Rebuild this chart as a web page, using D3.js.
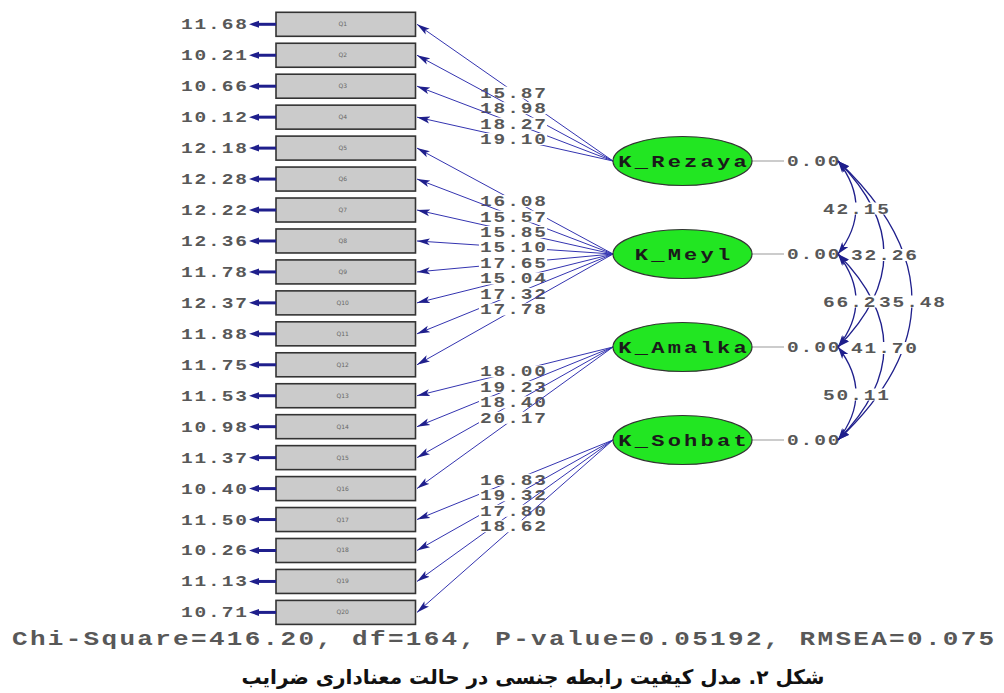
<!DOCTYPE html>
<html>
<head>
<meta charset="utf-8">
<script src="https://cdn.jsdelivr.net/npm/d3@7"></script>
<style>
  body { margin: 0; background: #fff; }
  svg { display: block; }
</style>
</head>
<body>
<svg id="chart" width="1004" height="693"></svg>
<script>
const W = 1004, H = 693;

// --- data ---
const indicators = ["Q1","Q2","Q3","Q4","Q5","Q6","Q7","Q8","Q9","Q10",
                    "Q11","Q12","Q13","Q14","Q15","Q16","Q17","Q18","Q19","Q20"];
const errorVars = [11.68, 10.21, 10.66, 10.12, 12.18, 12.28, 12.22, 12.36, 11.78, 12.37,
                   11.88, 11.75, 11.53, 10.98, 11.37, 10.40, 11.50, 10.26, 11.13, 10.71];
const loadings = [15.87, 18.98, 18.27, 19.10, 16.08, 15.57, 15.85, 15.10, 17.65, 15.04,
                  17.32, 17.78, 18.00, 19.23, 18.40, 20.17, 16.83, 19.32, 17.80, 18.62];
const factorOf = [0,0,0,0, 1,1,1,1,1,1,1,1, 2,2,2,2, 3,3,3,3];
const latents = ["K_Rezaya", "K_Meyl", "K_Amalka", "K_Sohbat"];
const latentVars = [0.00, 0.00, 0.00, 0.00];
const covPairs = [[0,1], [1,2], [2,3], [0,2], [1,3], [0,3]];
const covValues = [42.15, 66.23, 50.11, 32.26, 41.70, 35.48];
const fitText = "Chi-Square=416.20, df=164, P-value=0.05192, RMSEA=0.075";
const caption = "شکل ۲. مدل کیفیت رابطه جنسی در حالت معناداری ضرایب";

// --- layout ---
const yInd = d3.scalePoint().domain(indicators).range([24.3, 612.4]);
const yLat = d3.scalePoint().domain(latents).range([161, 440]);
const box = { x0: 276, x1: 415.5, h: 24 };
const lat = { cx: 682.5, rx: 69.5, ry: 24.5 };
const covX = 838;
const bulge = d3.scaleLinear().domain([1, 3]).range([18, 74]);

const navy = "#1f1f8c", lineBlue = "#3434b0", grayTxt = "#585858";
const mono = "'Liberation Mono', 'DejaVu Sans Mono', monospace";
const SX = 1.3; // horizontal stretch of the monospace glyphs

const svg = d3.select("#chart");
svg.append("rect").attr("width", W).attr("height", H).attr("fill", "#fff");

const defs = svg.append("defs");
defs.append("marker").attr("id", "ah")
  .attr("markerUnits", "userSpaceOnUse")
  .attr("viewBox", "0 -4 13 8").attr("refX", 13).attr("refY", 0)
  .attr("markerWidth", 13).attr("markerHeight", 8)
  .attr("orient", "auto")
  .append("path").attr("d", "M0,-3.5L13,0L0,3.5L3,0Z").attr("fill", navy);
defs.append("marker").attr("id", "ch")
  .attr("markerUnits", "userSpaceOnUse")
  .attr("viewBox", "0 -4 12 8").attr("refX", 12).attr("refY", 0)
  .attr("markerWidth", 12).attr("markerHeight", 8)
  .attr("orient", "auto-start-reverse")
  .append("path").attr("d", "M0,-4L12,0L0,4L3,0Z").attr("fill", navy);

// mono text with a fixed advance per character, glyphs slightly widened
function monoText(g, str, x, y, size, adv, anchor, color) {
  const s = String(str);
  const len = (s.length - 1) * adv + size * 0.6 * SX;
  return g.append("g")
    .attr("transform", `translate(${x},${y}) scale(${SX},1)`)
    .append("text")
    .attr("x", 0).attr("y", 0)
    .attr("font-family", mono).attr("font-size", size).attr("font-weight", "bold")
    .attr("fill", color || grayTxt)
    .attr("text-anchor", anchor)
    .attr("textLength", len / SX).attr("lengthAdjust", "spacing")
    .text(s);
}
function labelWithBg(g, str, cx, cy, size, adv) {
  const s = String(str);
  const len = (s.length - 1) * adv + size * 0.6 * SX;
  g.append("rect").attr("x", cx - len / 2 - 1).attr("y", cy - 6)
    .attr("width", len + 2).attr("height", 12).attr("fill", "#fff");
  monoText(g, s, cx, cy + 5, size, adv, "middle");
}

// --- indicator boxes and error arrows ---
const gBox = svg.append("g");
indicators.forEach((q, i) => {
  const y = yInd(q);
  gBox.append("rect").attr("x", box.x0).attr("y", y - box.h / 2)
    .attr("width", box.x1 - box.x0).attr("height", box.h)
    .attr("fill", "#cbcbcb").attr("stroke", "#333").attr("stroke-width", 1.6);
  gBox.append("text").attr("x", (box.x0 + box.x1) / 2 - 3).attr("y", y + 2)
    .attr("font-family", "DejaVu Sans").attr("font-size", 6)
    .attr("fill", "#666").attr("text-anchor", "middle").text(q);
  // error arrow
  gBox.append("line").attr("x1", box.x0).attr("x2", box.x0 - 19)
    .attr("y1", y).attr("y2", y).attr("stroke", navy).attr("stroke-width", 3);
  gBox.append("path")
    .attr("d", `M${box.x0 - 27},${y}L${box.x0 - 17},${y - 3.5}L${box.x0 - 17},${y + 3.5}Z`)
    .attr("fill", navy);
  monoText(gBox, errorVars[i].toFixed(2), box.x0 - 29, y + 5, 15, 13.6, "end");
});

// --- loadings: line, then its label on a white patch ---
const gLoad = svg.append("g");
indicators.forEach((q, i) => {
  const f = latents[factorOf[i]];
  const x1 = lat.cx - lat.rx, y1 = yLat(f);
  const x2 = box.x1 + 1.5, y2 = yInd(q);
  gLoad.append("line").attr("x1", x1).attr("y1", y1).attr("x2", x2).attr("y2", y2)
    .attr("stroke", lineBlue).attr("stroke-width", 1)
    .attr("marker-end", "url(#ah)");
  labelWithBg(gLoad, loadings[i].toFixed(2), (x1 + x2) / 2 - 2, (y1 + y2) / 2, 15, 13.6);
});

// --- latent ellipses ---
const gLat = svg.append("g");
latents.forEach((name, k) => {
  const y = yLat(name);
  gLat.append("line").attr("x1", lat.cx + lat.rx).attr("x2", 784)
    .attr("y1", y).attr("y2", y).attr("stroke", "#999").attr("stroke-width", 1);
  gLat.append("ellipse").attr("cx", lat.cx).attr("cy", y)
    .attr("rx", lat.rx).attr("ry", lat.ry)
    .attr("fill", "#22e622").attr("stroke", "#333").attr("stroke-width", 1.2);
  monoText(gLat, name, lat.cx, y + 6, 17, 16.5, "middle", "#1a1a1a");
  monoText(gLat, latentVars[k].toFixed(2), 787, y + 5, 15, 13.6, "start");
});

// --- covariance curves ---
const gCov = svg.append("g");
covPairs.forEach(([a, b]) => {
  const ya = yLat(latents[a]), yb = yLat(latents[b]);
  const bz = bulge(b - a);
  const mid = (ya + yb) / 2;
  gCov.append("path")
    .attr("d", `M${covX},${ya}Q${covX + 2 * bz},${mid} ${covX},${yb}`)
    .attr("fill", "none").attr("stroke", navy).attr("stroke-width", 1.3)
    .attr("marker-start", "url(#ch)").attr("marker-end", "url(#ch)");
});
covPairs.forEach(([a, b], j) => {
  const ya = yLat(latents[a]), yb = yLat(latents[b]);
  labelWithBg(gCov, covValues[j].toFixed(2), covX + bulge(b - a), (ya + yb) / 2 + 1, 15, 13.6);
});

// --- fit statistics and caption ---
monoText(svg, fitText, 12, 645, 20, 17.9, "start");

svg.append("text").attr("x", 533).attr("y", 684)
  .attr("font-family", "'DejaVu Sans', 'Noto Sans', sans-serif")
  .attr("font-size", 20).attr("font-weight", "bold")
  .attr("text-anchor", "middle").attr("direction", "rtl")
  .attr("fill", "#111").text(caption);
</script>
</body>
</html>
